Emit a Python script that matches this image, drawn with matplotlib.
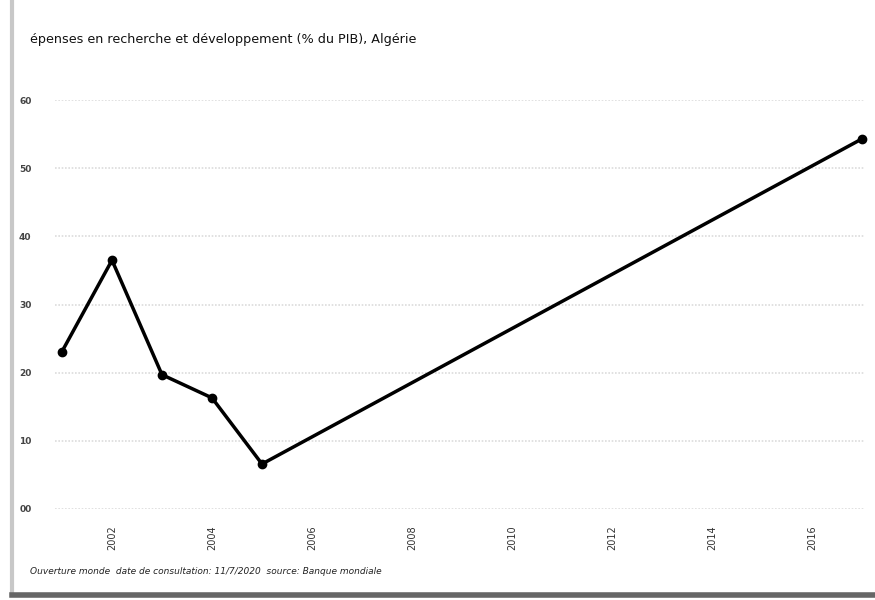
import matplotlib
matplotlib.use("Agg")
import matplotlib.pyplot as plt
from matplotlib.lines import Line2D

years = [2001, 2002, 2003, 2004, 2005, 2017]
values = [23.1, 36.5, 19.7, 16.3, 6.6, 54.3]
yticks = [0, 10, 20, 30, 40, 50, 60]
ytick_labels = ["00", "10", "20", "30", "40", "50", "60"]
xticks = [2002, 2004, 2006, 2008, 2010, 2012, 2014, 2016]
title = "épenses en recherche et développement (% du PIB), Algérie"
source = "Ouverture monde  date de consultation: 11/7/2020  source: Banque mondiale"

fig = plt.figure(figsize=(8.75, 6), dpi=100)
ax = fig.add_axes([55/875, 1-509/600, 810/875, 409/600])
ax.plot(years, values, color="black", lw=2.5, marker="o", ms=6, clip_on=False, zorder=3)
ax.set_xlim(2000.86, 2017.06)
ax.set_ylim(0, 60)
ax.set_yticks(yticks)
ax.set_yticklabels(ytick_labels, fontweight="bold")
ax.set_xticks(xticks)
ax.set_xticklabels([str(x) for x in xticks], rotation=90)
for s in ax.spines.values():
    s.set_visible(False)
ax.grid(axis="y", color="#dcdcdc", lw=1.2, ls=(0, (1, 1)))
ax.tick_params(axis="y", length=0, pad=17, labelsize=6.5, labelcolor="#444444")
ax.tick_params(axis="x", length=0, pad=12, labelsize=7, labelcolor="#333333")

fig.text(30/875, 1-40/600, title, fontsize=9.2, va="center", ha="left", color="#111111")
fig.text(30/875, 1-572/600, source, fontsize=6.5, style="italic", va="center", ha="left", color="#222222")

fig.add_artist(Line2D([12/875, 12/875], [0.01, 1], transform=fig.transFigure, color="#c8c8c8", lw=3))
fig.add_artist(Line2D([12/875, 1], [1-595/600, 1-595/600], transform=fig.transFigure, color="#666666", lw=4))

fig.savefig("out.png", dpi=100)
